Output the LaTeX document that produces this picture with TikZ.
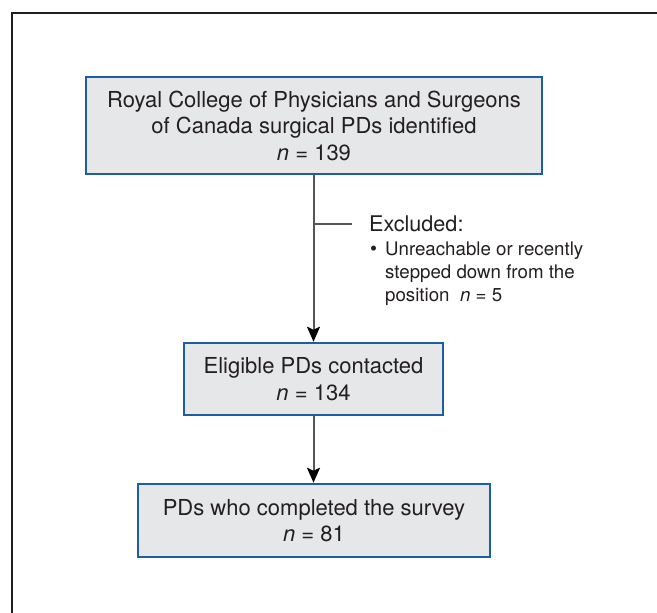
\documentclass[tikz,border=0pt]{standalone}
\usepackage{fontspec}
\setmainfont{TeX Gyre Heros}
\usetikzlibrary{arrows.meta,positioning}
\definecolor{boxblue}{RGB}{28,94,160}
\definecolor{boxgray}{RGB}{230,231,232}
\definecolor{linegray}{RGB}{85,85,85}
\definecolor{textdark}{RGB}{35,31,32}

\begin{document}
\begin{tikzpicture}[x=1pt, y=-1pt,
    stage/.style={draw=boxblue, line width=2.5pt, fill=boxgray, align=center,
        text=textdark, inner sep=0pt, font=\fontsize{22}{26.5}\selectfont},
    note/.style={text=textdark, inner sep=0pt, align=left},
    flow/.style={draw=linegray, line width=2pt,
        -{Stealth[length=15pt, width=13pt, inset=3pt, color=black]}}]
    \useasboundingbox (0,0) rectangle (657,613);

    % Outer frame
    \draw[line width=1.6pt, textdark] (12,613) -- (12,13) -- (657,13);

    % Flow boxes
    \node[stage, minimum width=456pt, minimum height=97pt] (identified) at (314,125.5)
        {Royal College of Physicians and Surgeons\\of Canada surgical PDs identified\\\textit{n} = 139};
    \node[stage, minimum width=259pt, minimum height=72pt] (contacted) at (313.5,379)
        {Eligible PDs contacted\\\textit{n} = 134};
    \node[stage, minimum width=352pt, minimum height=73pt] (completed) at (314,520.5)
        {PDs who completed the survey\\\textit{n} = 81};

    % Exclusion branch
    \coordinate (split) at (313.5,224);
    \coordinate (splitend) at (352,224);
    \node[note, anchor=west, font=\fontsize{21.6}{24}\selectfont] (excluded) at (369,224) {Excluded:};
    \node[note, anchor=base west, font=\fontsize{20}{23}\selectfont] (bullet) at (370,255) {\textbullet};
    \node[note, anchor=north west, font=\fontsize{18.7}{23}\selectfont] (reason) at (385,241.5)
        {Unreachable or recently\\stepped down from the\\position~~\textit{n} = 5};

    % Connectors
    \draw[flow] (identified.south -| contacted.north) -- (contacted.north);
    \draw[linegray, line width=2pt] (split) -- (splitend);
    \draw[flow] (contacted.south) -- (contacted.south |- completed.north);
\end{tikzpicture}
\end{document}
